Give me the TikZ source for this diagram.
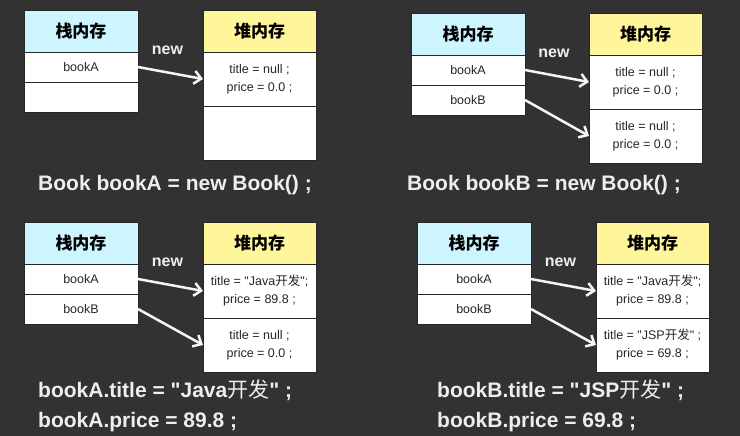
\documentclass[tikz,border=0pt]{standalone}
\usepackage{fontspec}
\setmainfont{Liberation Sans}[Ligatures=TeXOff]
\newfontfamily\cjk{Noto Sans CJK SC}
\usepackage{tikz}
\usetikzlibrary{arrows.meta, positioning}
\definecolor{bgc}{HTML}{323232}
\definecolor{stackc}{HTML}{CCF5FF}
\definecolor{heapc}{HTML}{FFF59A}
\definecolor{codec}{HTML}{EEEEEE}
\tikzstyle{stackhead} = [rectangle, draw = black!85, line width = 0.8pt, fill = stackc, minimum width = 114pt,
minimum height = 42pt, outer sep = 0pt, font = \cjk\bfseries\fontsize{17}{20}\selectfont]
\tikzstyle{heaphead} = [rectangle, draw = black!85, line width = 0.8pt, fill = heapc, minimum width = 113pt,
minimum height = 42pt, outer sep = 0pt, font = \cjk\bfseries\fontsize{17}{20}\selectfont]
\tikzstyle{cell} = [rectangle, draw = black!85, line width = 0.8pt, fill = white, minimum width = 114pt,
minimum height = 30pt, outer sep = 0pt, text = black!85, font = \fontsize{12.5}{14}\selectfont]
\tikzstyle{heapcell} = [rectangle, draw = black!85, line width = 0.8pt, fill = white, minimum width = 113pt,
minimum height = 54pt, outer sep = 0pt, align = center, text = black!85, font = \fontsize{12.5}{18}\selectfont]
\tikzstyle{code} = [anchor = base west, inner sep = 0pt, text = codec, font = \bfseries\fontsize{21}{25}\selectfont]
\tikzstyle{newlbl} = [inner sep = 0pt, text = codec, font = \bfseries\fontsize{16}{18}\selectfont]
\tikzstyle{arrow} = [line width = 2.5pt, color = white!96!black, -{Straight Barb[length = 7pt, width = 13pt]}]

\begin{document}
\begin{tikzpicture} [x = 1pt, y = -1pt]
\fill[bgc] (0,0) rectangle (740,436);

% Book bookA = new Book()
\node (s1h) [stackhead] at (81,31) {栈内存};
\node (s1a) [cell, below = 0pt of s1h] {bookA};
\node (s1b) [cell, below = 0pt of s1a] {};
\node (h1h) [heaphead] at (259.5,31) {堆内存};
\node (h1a) [heapcell, below = 0pt of h1h] {title = null ;\\price = 0.0 ;};
\node (h1b) [heapcell, below = 0pt of h1a] {};
\draw[arrow] (s1a.east) -- node[newlbl, above = 17pt, xshift = -3pt]{new} (h1a.west);
\node (c1) [code] at (38,190) {Book bookA = new Book() ;};

% Book bookB = new Book()
\node (s2h) [stackhead] at (468,34) {栈内存};
\node (s2a) [cell, below = 0pt of s2h] {bookA};
\node (s2b) [cell, below = 0pt of s2a] {bookB};
\node (h2h) [heaphead] at (645.5,34) {堆内存};
\node (h2a) [heapcell, below = 0pt of h2h] {title = null ;\\price = 0.0 ;};
\node (h2b) [heapcell, below = 0pt of h2a] {title = null ;\\price = 0.0 ;};
\draw[arrow] (s2a.east) -- node[newlbl, above = 17pt, xshift = -3pt]{new} (h2a.west);
\draw[arrow] (s2b.east) -- (h2b.west);
\node (c2) [code] at (407,190) {Book bookB = new Book() ;};

% bookA.title, bookA.price
\node (s3h) [stackhead] at (81,243) {栈内存};
\node (s3a) [cell, below = 0pt of s3h] {bookA};
\node (s3b) [cell, below = 0pt of s3a] {bookB};
\node (h3h) [heaphead] at (259.5,243) {堆内存};
\node (h3a) [heapcell, below = 0pt of h3h] {title = "Java{\cjk 开发}";\\price = 89.8 ;};
\node (h3b) [heapcell, below = 0pt of h3a] {title = null ;\\price = 0.0 ;};
\draw[arrow] (s3a.east) -- node[newlbl, above = 17pt, xshift = -3pt]{new} (h3a.west);
\draw[arrow] (s3b.east) -- (h3b.west);
\node (c3a) [code] at (38,397) {bookA.title = "Java{\cjk\mdseries 开发}" ;};
\node (c3b) [code] at (38,427) {bookA.price = 89.8 ;};

% bookB.title, bookB.price
\node (s4h) [stackhead] at (474,243) {栈内存};
\node (s4a) [cell, below = 0pt of s4h] {bookA};
\node (s4b) [cell, below = 0pt of s4a] {bookB};
\node (h4h) [heaphead] at (652.5,243) {堆内存};
\node (h4a) [heapcell, below = 0pt of h4h] {title = "Java{\cjk 开发}";\\price = 89.8 ;};
\node (h4b) [heapcell, below = 0pt of h4a] {title = "JSP{\cjk 开发}" ;\\price = 69.8 ;};
\draw[arrow] (s4a.east) -- node[newlbl, above = 17pt, xshift = -3pt]{new} (h4a.west);
\draw[arrow] (s4b.east) -- (h4b.west);
\node (c4a) [code] at (437,397) {bookB.title = "JSP{\cjk\mdseries 开发}" ;};
\node (c4b) [code] at (437,427) {bookB.price = 69.8 ;};
\end{tikzpicture}
\end{document}
